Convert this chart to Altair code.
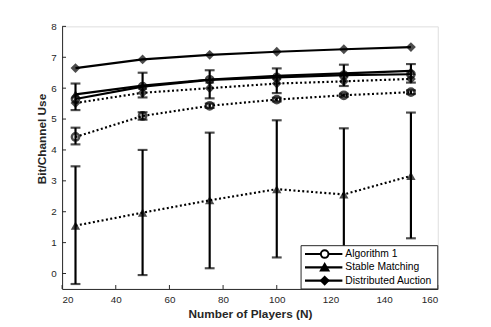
import altair as alt
import pandas as pd

# ---- data ----
x_vals = [25, 50, 75, 100, 125, 150]

alg1_solid = [5.65, 6.05, 6.27, 6.35, 6.42, 6.45]
sm_solid = [5.80, 6.08, 6.28, 6.40, 6.48, 6.56]
da_solid = [6.65, 6.93, 7.08, 7.18, 7.26, 7.33]

alg1_dot = [4.42, 5.10, 5.43, 5.63, 5.77, 5.87]
sm_dot = [1.55, 1.97, 2.37, 2.73, 2.56, 3.16]
da_dot = [5.52, 5.85, 6.00, 6.15, 6.22, 6.30]

sm_solid_lo = [5.29, 5.70, 5.67, 5.84, 6.07, 6.18]
sm_solid_hi = [6.15, 6.50, 6.58, 6.64, 6.76, 6.78]
alg1_dot_lo = [4.18, 4.98, 5.36, 5.57, 5.72, 5.81]
alg1_dot_hi = [4.72, 5.22, 5.50, 5.69, 5.82, 5.93]
sm_dot_lo = [-0.34, -0.05, 0.17, 0.52, 0.42, 1.14]
sm_dot_hi = [3.47, 4.00, 4.56, 4.96, 4.70, 5.21]

x_ticks = [20, 40, 60, 80, 100, 120, 140, 160]
y_ticks = [0, 1, 2, 3, 4, 5, 6, 7, 8]

legend_names = ["Algorithm 1", "Stable Matching", "Distributed Auction"]
legend_shapes = ["circle", "triangle-up", "diamond"]
legend_fills = ["white", "black", "black"]

W, H = 382, 267
FONT = "Liberation Sans"

# ---- build tables ----
series = [
    ("Algorithm 1", "solid", "circle", alg1_solid),
    ("Stable Matching", "solid", "triangle-up", sm_solid),
    ("Distributed Auction", "solid", "diamond", da_solid),
    ("Algorithm 1", "dotted", "circle", alg1_dot),
    ("Stable Matching", "dotted", "triangle-up", sm_dot),
    ("Distributed Auction", "dotted", "diamond", da_dot),
]
rows = []
for name, style, shape, vals in series:
    for xv, yv in zip(x_vals, vals):
        rows.append({"id": name + "-" + style, "name": name, "style": style,
                     "shape": shape, "x": xv, "y": yv})
df = pd.DataFrame(rows)

err_rows = []
for lo, hi in [(sm_solid_lo, sm_solid_hi), (alg1_dot_lo, alg1_dot_hi), (sm_dot_lo, sm_dot_hi)]:
    for xv, l, h in zip(x_vals, lo, hi):
        err_rows.append({"x": xv, "lo": l, "hi": h})
edf = pd.DataFrame(err_rows)

xs = alt.Scale(domain=[20, 160], nice=False, zero=False)
ys = alt.Scale(domain=[-0.5, 8], nice=False, zero=False)

xaxis = alt.Axis(values=x_ticks, grid=False, tickSize=0, labelPadding=6,
                 labelFontSize=10, labelColor="#262626", labelFont=FONT,
                 domainColor="#262626", domainWidth=1,
                 title="Number of Players (N)", titleFont=FONT, titleFontSize=12,
                 titleFontWeight="bold", titleColor="#262626", titlePadding=4)
yaxis = alt.Axis(values=y_ticks, grid=False, tickSize=0, labelPadding=6,
                 labelFontSize=10, labelColor="#262626", labelFont=FONT,
                 domainColor="#262626", domainWidth=1,
                 title="Bit/Channel Use", titleFont=FONT, titleFontSize=12,
                 titleFontWeight="bold", titleColor="#262626",
                 titleX=-21, titleY=114, titleAngle=270, titleAlign="center",
                 titleBaseline="middle")

X = alt.X("x:Q", scale=xs, axis=xaxis, title="Number of Players (N)")
Y = alt.Y("y:Q", scale=ys, axis=yaxis, title="Bit/Channel Use")

base = alt.Chart(df)

lines_solid = base.transform_filter(alt.datum.style == "solid").mark_line(
    color="black", strokeWidth=2.2).encode(x=X, y=Y, detail="id:N")
lines_dot = base.transform_filter(alt.datum.style == "dotted").mark_line(
    color="black", strokeWidth=2.2, strokeDash=[2, 2.5]).encode(
    x=X, y=Y, detail="id:N")

err_rule = alt.Chart(edf).mark_rule(color="black", strokeWidth=2.2).encode(
    x=X, y=alt.Y("lo:Q", scale=ys, axis=yaxis, title="Bit/Channel Use"), y2="hi:Q")
err_lo = alt.Chart(edf).mark_tick(color="black", orient="horizontal",
                                  thickness=2.2, size=10).encode(
    x=X, y=alt.Y("lo:Q", scale=ys, axis=yaxis, title="Bit/Channel Use"))
err_hi = alt.Chart(edf).mark_tick(color="black", orient="horizontal",
                                  thickness=2.2, size=10).encode(
    x=X, y=alt.Y("hi:Q", scale=ys, axis=yaxis, title="Bit/Channel Use"))

pts_circle = base.transform_filter(alt.datum.shape == "circle").mark_point(
    shape="circle", size=55, filled=False, color="black", strokeWidth=2.5).encode(x=X, y=Y)
pts_tri = base.transform_filter(alt.datum.shape == "triangle-up").mark_point(
    shape="triangle-up", size=90, filled=True, color="black").encode(x=X, y=Y)
pts_dia = base.transform_filter(alt.datum.shape == "diamond").mark_point(
    shape="diamond", size=100, filled=True, color="black").encode(x=X, y=Y)

# inward tick marks
xt = alt.Chart(pd.DataFrame({"x": x_ticks})).mark_rule(color="#262626", strokeWidth=1).encode(
    x=X, y=alt.value(H), y2=alt.value(H - 4))
yt = alt.Chart(pd.DataFrame({"y": y_ticks})).mark_rule(color="#262626", strokeWidth=1).encode(
    y=Y, x=alt.value(0), x2=alt.value(4))

# manual legend (pixel placement inside the plot area)
ldf = pd.DataFrame({"name": legend_names, "shape": legend_shapes,
                    "fill": legend_fills, "row": [0, 1, 2]})
leg = alt.Chart(ldf).transform_calculate(py="231.5 + datum.row * 13.5")
PY = alt.Y("py:Q", scale=None, axis=None)
leg_box = alt.Chart(ldf).transform_filter(alt.datum.row == 0).mark_rect(
    fill="white", stroke="#262626", strokeWidth=1).encode(
    x=alt.value(243), x2=alt.value(382), y=alt.value(223), y2=alt.value(267))
leg_line = leg.mark_rule(color="black", strokeWidth=2.2).encode(
    y=PY, x=alt.value(247), x2=alt.value(285))
leg_pt = leg.mark_point(color="black", strokeWidth=2, size=60, opacity=1).encode(
    y=PY, x=alt.value(267),
    shape=alt.Shape("shape:N", scale=None, legend=None),
    fill=alt.Fill("fill:N", scale=None, legend=None))
leg_txt = leg.mark_text(align="left", baseline="middle", fontSize=10.5,
                        font=FONT, color="black").encode(
    y=PY, x=alt.value(288), text="name:N")

chart = alt.layer(
    lines_dot, lines_solid, err_rule, err_lo, err_hi,
    pts_circle, pts_tri, pts_dia, xt, yt,
    leg_box, leg_line, leg_pt, leg_txt
).properties(
    width=W, height=H, autosize=alt.AutoSizeParams(type="none"),
    padding={"left": 55, "top": 16, "right": 46, "bottom": 36}
).configure_view(stroke=None).configure(background="white")

chart.save("out.html", embed_options={"renderer": "svg", "actions": False})
